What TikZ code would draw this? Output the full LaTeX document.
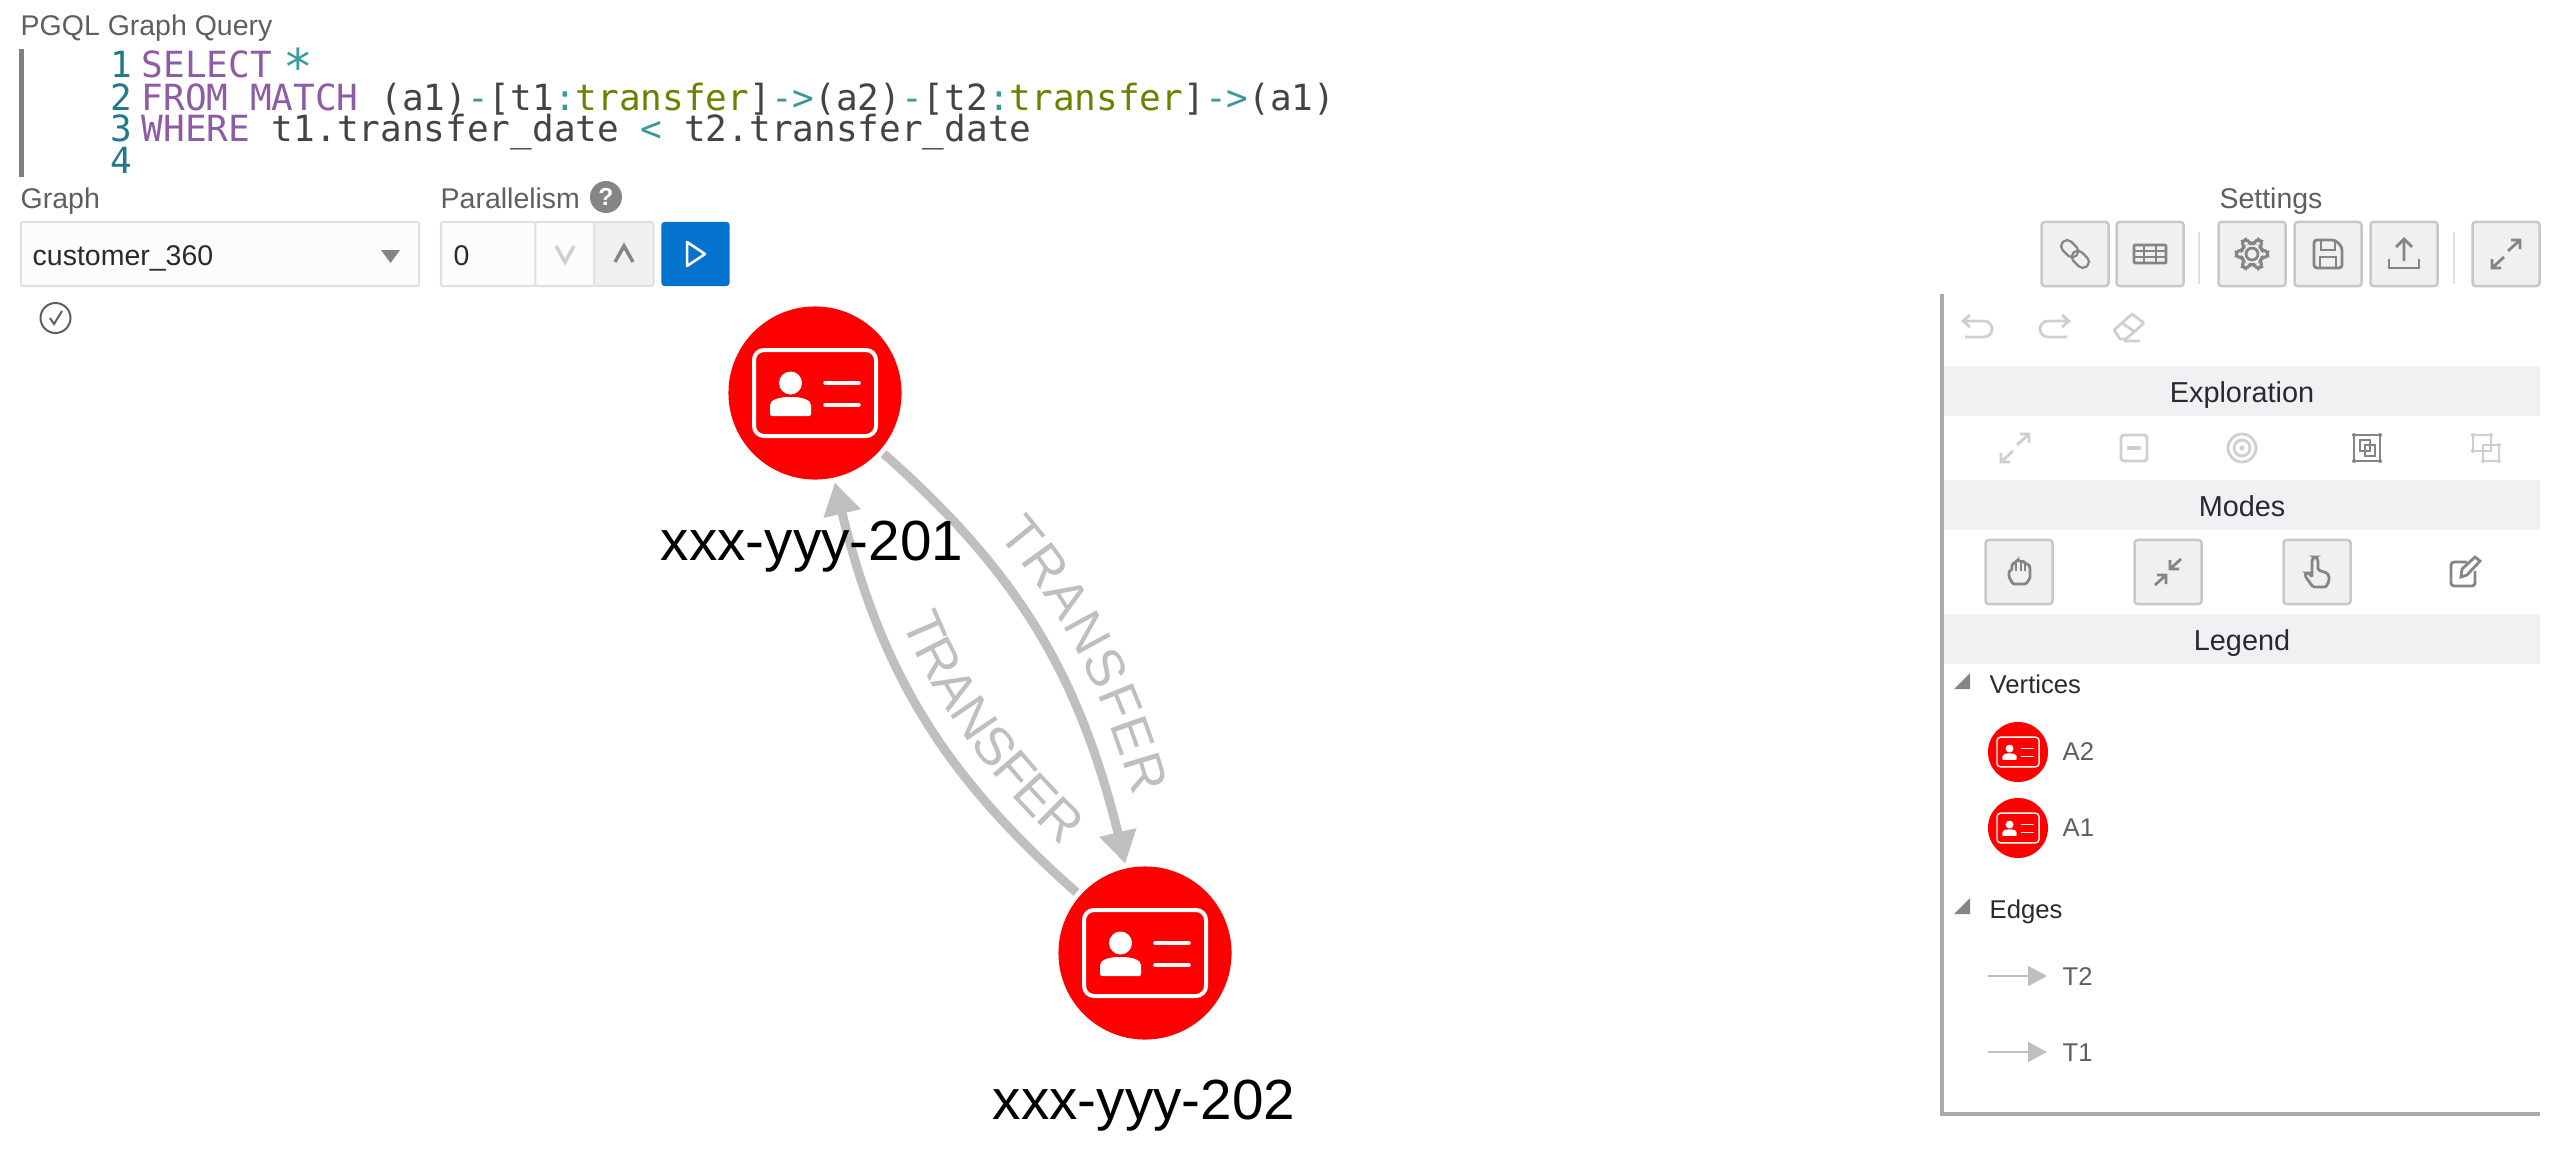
\documentclass[tikz,border=0pt]{standalone}
\usepackage{fontspec}
\setmainfont{Liberation Sans}
\setmonofont{DejaVu Sans Mono}
\usetikzlibrary{arrows.meta,bending,decorations.text}

\definecolor{edgegray}{HTML}{BFBFBF}
\definecolor{vertexred}{HTML}{FF0000}
\definecolor{uigray}{HTML}{5F5F5F}
\definecolor{uidark}{HTML}{2A2A2E}
\definecolor{barfill}{HTML}{F1F1F3}
\definecolor{btnfill}{HTML}{F0F0F0}
\definecolor{btnline}{HTML}{C8C8C8}
\definecolor{panelline}{HTML}{A8ABAE}
\definecolor{icondark}{HTML}{858585}
\definecolor{iconlight}{HTML}{CFCFCF}
\definecolor{fieldfill}{HTML}{FCFCFD}
\definecolor{kwpurple}{HTML}{8E5BA6}
\definecolor{typeolive}{HTML}{6F8000}
\definecolor{optealg}{HTML}{3A9A9A}
\definecolor{linenoblue}{HTML}{1F7A8C}
\definecolor{codegray}{HTML}{444444}
\definecolor{runblue}{HTML}{0572CE}

\newcommand{\kw}[1]{\textcolor{kwpurple}{#1}}
\newcommand{\ty}[1]{\textcolor{typeolive}{#1}}
\newcommand{\op}[1]{\textcolor{optealg}{#1}}

% card glyph on a vertex, #1 = vertex node, #2 = size factor
\newcommand{\idcard}[2]{
  \begin{scope}[shift={(#1)},scale=#2]
    \draw[white,line width=#2*0.04cm,rounded corners=#2*0.1cm] (-61,-43) rectangle (61,43);
    \fill[white] (-24.5,-10) circle (11.5);
    \fill[white,rounded corners=#2*0.02cm] (-45,23) -- (-45,14) .. controls (-45,7) and (-36,4) .. (-24.5,4)
      .. controls (-13,4) and (-4,7) .. (-4,14) -- (-4,23) -- cycle;
    \draw[white,line width=#2*0.035cm,line cap=round] (10,-10) -- (44,-10) (10,12) -- (44,12);
  \end{scope}
}

\tikzset{
  vertex/.style={circle,fill=vertexred,minimum size=1.73cm,inner sep=0pt,outer sep=0.05cm},
  legendvertex/.style={circle,fill=vertexred,minimum size=0.6cm,inner sep=0pt},
  transferedge/.style={draw=edgegray,line width=0.09cm,-{Triangle[length=0.32cm,width=0.36cm]}},
  transfertext/.style={decorate,decoration={text along path,text color=edgegray,text align={left indent=#1},raise=0.24cm,
    text={|\fontsize{15.2}{18}\selectfont|TRANSFER}}},
  vertexlabel/.style={font=\fontsize{16.1}{19}\selectfont,text=black,inner sep=0pt,anchor=base},
  uilabel/.style={font=\fontsize{8.1}{10}\selectfont,text=uigray,inner sep=0pt,anchor=base west},
  legendtext/.style={font=\fontsize{7.3}{9}\selectfont,text=uigray,inner sep=0pt,anchor=base west},
  legendhead/.style={font=\fontsize{7.3}{9}\selectfont,text=uidark,inner sep=0pt,anchor=base west},
  codeline/.style={font=\fontsize{10.25}{12}\ttfamily,text=codegray,inner sep=0pt,anchor=base west},
  lineno/.style={font=\fontsize{10.25}{12}\ttfamily,text=linenoblue,inner sep=0pt,anchor=base east},
  toolbtn/.style={draw=btnline,fill=btnfill,line width=0.025cm,rounded corners=0.03cm,minimum width=0.67cm,minimum height=0.64cm,inner sep=0pt},
  fieldbox/.style={draw=black!12,fill=fieldfill,line width=0.02cm,rounded corners=0.02cm,minimum height=0.64cm,inner sep=0pt},
  headbar/.style={fill=barfill,minimum width=5.96cm,minimum height=0.5cm,inner sep=0pt},
  headtext/.style={font=\fontsize{8.2}{10}\selectfont,text=uidark,inner sep=0pt,anchor=base},
  every pic/.style={line width=0.028cm},
  pics/expandicon/.style={code={
    \draw (2,-3) -- (14,-14) (5,-14) -- (14,-14) -- (14,-5);
    \draw (-2,3) -- (-14,14) (-5,14) -- (-14,14) -- (-14,5);}},
  pics/chainicon/.style={code={
    \begin{scope}[rotate=-45]
      \draw[line width=0.022cm,rounded corners=0.055cm] (-17,-6) rectangle (2,6);
      \draw[line width=0.022cm,rounded corners=0.055cm] (-2,-6) rectangle (17,6);
    \end{scope}}},
  pics/tableicon/.style={code={
    \draw[rounded corners=0.01cm] (-16,-9) rectangle (16,9);
    \draw (-16,-3) -- (16,-3) (-16,3) -- (16,3) (-6,-9) -- (-6,9) (6,-9) -- (6,9);}},
  pics/gearicon/.style={code={
    \draw[rounded corners=0.02cm] plot[domain=0:360,samples=73] (\x:{13+2.5*sign(cos(6*\x))}) -- cycle;
    \draw (0,0) circle (6);}},
  pics/saveicon/.style={code={
    \draw[rounded corners=0.03cm] (-14,-14) -- (7,-14) -- (14,-7) -- (14,14) -- (-14,14) -- cycle;
    \draw (-7,-14) -- (-7,-4) -- (7,-4) -- (7,-14) (-8,14) -- (-8,3) -- (8,3) -- (8,14);}},
  pics/uploadicon/.style={code={
    \draw (0,7) -- (0,-15) (-8,-7) -- (0,-15) -- (8,-7);
    \draw (-15,5) -- (-15,14) -- (15,14) -- (15,5);}},
  pics/undoicon/.style={code={
    \draw (-8,-12) -- (-15,-6) -- (-8,0) (-15,-6) -- (6,-6) arc[start angle=90,end angle=-90,radius=0.08cm] -- (-13,10);}},
  pics/redoicon/.style={code={
    \draw (8,-12) -- (15,-6) -- (8,0) (15,-6) -- (-6,-6) arc[start angle=90,end angle=270,radius=0.08cm] -- (13,10);}},
  pics/erasericon/.style={code={
    \draw[rounded corners=0.01cm] (-15,3) -- (3,-13) -- (15,-4) -- (-3,12) -- (-9,12) -- cycle;
    \draw (-7,-4) -- (6,5) (-5,14) -- (11,14);}},
  pics/minusicon/.style={code={
    \draw[rounded corners=0.03cm] (-13,-13) rectangle (13,13);
    \draw[line width=0.04cm] (-7,0) -- (7,0);}},
  pics/targeticon/.style={code={
    \draw (0,0) circle (14) (0,0) circle (8);
    \fill (0,0) circle (2.5);}},
  pics/focusicon/.style={code={
    \draw (-13,-13) rectangle (13,13);
    \draw (-7,-8) rectangle (3,3) (-2,-3) rectangle (8,8);
    \foreach \cx in {-13,13} \foreach \cy in {-13,13} \fill (\cx,\cy) circle (2);}},
  pics/groupicon/.style={code={
    \draw (-13,-13) rectangle (5,3) (-3,-3) rectangle (13,13);
    \foreach \cx/\cy in {-13/-13,5/-13,-13/3,13/-3,-3/13,13/13} \fill (\cx,\cy) circle (2);}},
  pics/handicon/.style={code={
    \draw[rounded corners=0.012cm] (-6,12) -- (-10,5) -- (-10,-1) -- (-7,-2) -- (-7,-8) -- (-4,-9) -- (-3,-11) -- (0,-12)
      -- (2,-10) -- (5,-11) -- (6,-8) -- (9,-8) -- (11,-5) -- (11,6) -- (7,12) -- cycle;
    \draw (-3,-9) -- (-3,-1) (2,-10) -- (2,-1) (6,-8) -- (6,-1);}},
  pics/compressicon/.style={code={
    \draw (13,-13) -- (2,-3) (2,-12) -- (2,-3) -- (11,-3);
    \draw (-13,13) -- (-2,3) (-2,12) -- (-2,3) -- (-11,3);}},
  pics/pointericon/.style={code={
    \draw[rounded corners=0.015cm] (-5,-12) -- (-3,-15) -- (-1,-15) -- (1,-12) -- (1,-2) -- (10,1) -- (12,4) -- (12,9) -- (9,15)
      -- (-4,15) -- (-12,4) -- (-11,1) -- (-8,1) -- (-5,5) -- cycle;}},
  pics/editicon/.style={code={
    \draw[rounded corners=0.03cm] (2,-10) -- (-14,-10) -- (-14,14) -- (10,14) -- (10,-1);
    \draw (-4,5) -- (-3,-3) -- (10,-15) -- (15,-11) -- (2,3) -- cycle;}}
}

\begin{document}
\begin{tikzpicture}[x=0.01cm,y=-0.01cm]
  \useasboundingbox (0,0) rectangle (2560,1148);

  % query editor
  \node[uilabel] (querylabel) at (20,35) {PGQL Graph Query};
  \draw[draw=uigray!80,line width=0.04cm] (21.5,49) -- (21.5,177);
  \foreach \lnum/\ly in {1/77,2/110,3/141,4/173}{
    \node[lineno] (num-\lnum) at (133,\ly) {\lnum};
  }
  \node[codeline] (code-1) at (141,77) {\kw{SELECT} \hspace{-0.1cm}\op{\fontsize{14}{12}\selectfont\raisebox{-0.16em}{*}}};
  \node[codeline] (code-2) at (141,110) {\kw{FROM MATCH} (a1)\op{-}[t1\op{:}\ty{transfer}]\op{->}(a2)\op{-}[t2\op{:}\ty{transfer}]\op{->}(a1)};
  \node[codeline] (code-3) at (141,141) {\kw{WHERE} t1.transfer\_date \op{<} t2.transfer\_date};

  % graph and parallelism fields
  \node[uilabel] (graphlabel) at (20,208) {Graph};
  \node[uilabel] (parlabel) at (440,208) {Parallelism};
  \node[circle,fill=icondark,text=white,minimum size=0.32cm,inner sep=0pt,font=\fontsize{7}{8}\bfseries\selectfont] (helpdot) at (606,197) {?};
  \node[fieldbox,minimum width=3.98cm] (graphbox) at (220,254) {};
  \node[uilabel,text=uidark] (graphvalue) at (32,265) {customer\_360};
  \fill[icondark] (381,250) -- (400,250) -- (390.5,263) -- cycle;
  \node[fieldbox,minimum width=0.95cm] (spinbox) at (488.4,254) {};
  \node[uilabel,text=uidark] (spinvalue) at (453,265) {0};
  \node[fieldbox,minimum width=0.59cm] (spindown) at (565,254) {};
  \node[fieldbox,minimum width=0.59cm,fill=btnfill] (spinup) at (624,254) {};
  \draw[iconlight,line width=0.035cm] (556,246) -- (565,262) -- (574,246);
  \draw[icondark,line width=0.035cm] (615,262) -- (624,246) -- (633,262);
  \node[fill=runblue,rounded corners=0.03cm,minimum width=0.68cm,minimum height=0.64cm,inner sep=0pt] (runbtn) at (695.5,254) {};
  \draw[white,line width=0.025cm,line join=round] (687,242) -- (705,254) -- (687,266) -- cycle;
  \node[circle,draw=uigray,line width=0.02cm,minimum size=0.3cm,inner sep=0pt] (statusdot) at (55.5,318) {};
  \draw[uigray,line width=0.02cm] (50,318) -- (54,324) -- (62,311);

  % settings toolbar
  \node[uilabel,anchor=base] (settingslabel) at (2271,208) {Settings};
  \foreach \bname/\bx in {chain/2075,table/2150,gear/2252,save/2328,upload/2404,expand/2506}{
    \node[toolbtn] (btn-\bname) at (\bx,254) {};
  }
  \draw[black!12,line width=0.02cm] (2199,232) -- (2199,284) (2454,232) -- (2454,284);
  \pic[color=icondark] at (btn-chain) {chainicon};
  \pic[color=icondark] at (btn-table) {tableicon};
  \pic[color=icondark] at (btn-gear) {gearicon};
  \pic[color=icondark] at (btn-save) {saveicon};
  \pic[color=icondark] at (btn-upload) {uploadicon};
  \pic[color=icondark] at (btn-expand) {expandicon};

  % side panel
  \draw[panelline,line width=0.04cm] (1942,294) -- (1942,1114) -- (2540,1114);
  \pic[color=iconlight] at (1978,327) {undoicon};
  \pic[color=iconlight] at (2054,327) {redoicon};
  \pic[color=iconlight] at (2129,327) {erasericon};
  \node[headbar] (barexplore) at (2242,391) {};
  \node[headbar] (barmodes) at (2242,505) {};
  \node[headbar] (barlegend) at (2242,639) {};
  \node[headtext] (headexplore) at (2242,402) {Exploration};
  \node[headtext] (headmodes) at (2242,516) {Modes};
  \node[headtext] (headlegend) at (2242,650) {Legend};
  \pic[color=iconlight] at (2015,448) {expandicon};
  \pic[color=iconlight] at (2134,448) {minusicon};
  \pic[color=iconlight] at (2242,448) {targeticon};
  \pic[color=icondark] at (2367,448) {focusicon};
  \pic[color=iconlight] at (2486,448) {groupicon};
  \foreach \bname/\bx in {hand/2019,compress/2168,pointer/2317}{
    \node[toolbtn] (btn-\bname) at (\bx,572) {};
  }
  \pic[color=icondark] at (btn-hand) {handicon};
  \pic[color=icondark] at (btn-compress) {compressicon};
  \pic[color=icondark] at (btn-pointer) {pointericon};
  \pic[color=icondark] at (2465,572) {editicon};

  % legend
  \foreach \ty in {689,914}{
    \fill[icondark] (1954,\ty) -- (1970,\ty) -- (1970,\ty-16) -- cycle;
  }
  \node[legendhead] (legendvert) at (1989,693) {Vertices};
  \node[legendhead] (legendedge) at (1989,918) {Edges};
  \node[legendvertex] (legend-a2) at (2018,752) {};
  \node[legendvertex] (legend-a1) at (2018,828) {};
  \idcard{legend-a2}{0.345}
  \idcard{legend-a1}{0.345}
  \node[legendtext] (text-a2) at (2062,760) {A2};
  \node[legendtext] (text-a1) at (2062,836) {A1};
  \coordinate (t2start) at (1988,976);
  \coordinate (t2end) at (2047,976);
  \coordinate (t1start) at (1988,1052);
  \coordinate (t1end) at (2047,1052);
  \draw[draw=edgegray,line width=0.02cm,-{Triangle[length=0.19cm,width=0.2cm]}] (t2start) -- (t2end);
  \draw[draw=edgegray,line width=0.02cm,-{Triangle[length=0.19cm,width=0.2cm]}] (t1start) -- (t1end);
  \node[legendtext] (text-t2) at (2062,985) {T2};
  \node[legendtext] (text-t1) at (2062,1061) {T1};

  % the graph itself
  \node[vertex] (n201) at (815,393) {};
  \node[vertex] (n202) at (1145,953) {};
  \idcard{n201}{1}
  \idcard{n202}{1}
  \path (n201) edge[transferedge,bend left=18] (n202);
  \path (n202) edge[transferedge,bend left=18] (n201);
  \path[transfertext=1.35cm] (n201) to[bend left=18] (n202);
  \path[transfertext=1.55cm] (n201) to[bend right=18] (n202);
  \node[vertexlabel] (label201) at (812,560) {xxx-yyy-201};
  \node[vertexlabel] (label202) at (1144,1119) {xxx-yyy-202};
\end{tikzpicture}
\end{document}
